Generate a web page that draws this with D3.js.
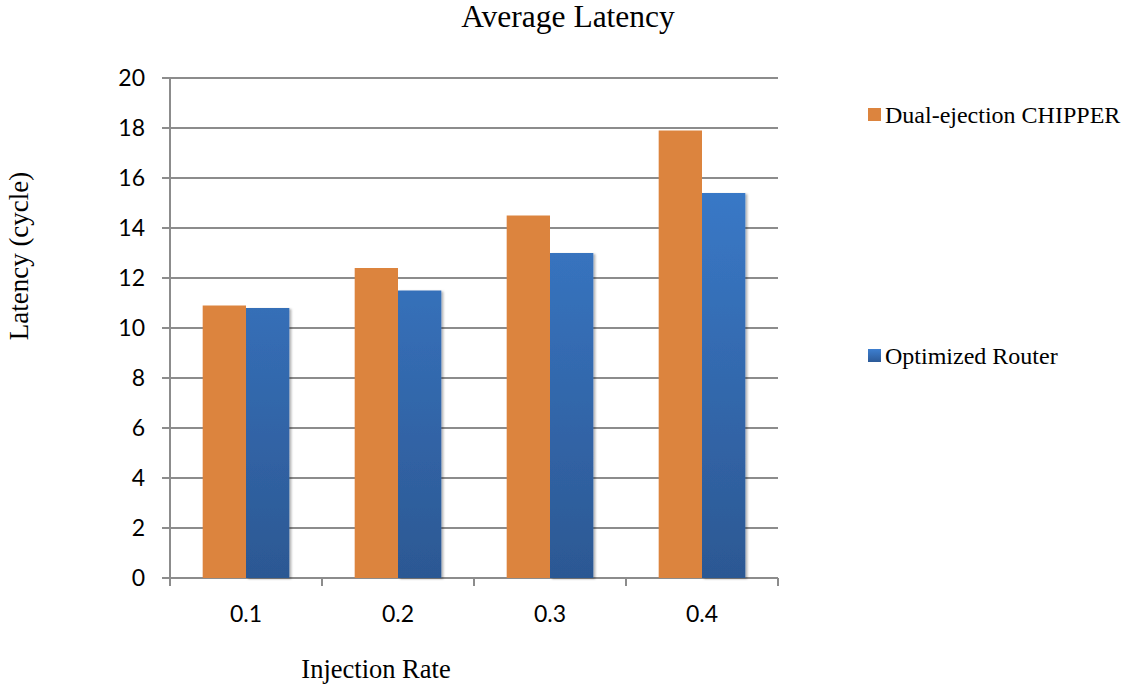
<!DOCTYPE html>
<html><head><meta charset="utf-8">
<script src="https://cdn.jsdelivr.net/npm/d3@7"></script>
<style>body{margin:0;background:#fff}</style>
</head><body>
<svg id="c" width="1131" height="691"></svg>
<script>
const categories = ["0.1","0.2","0.3","0.4"];
const seriesNames = ["Dual-ejection CHIPPER","Optimized Router"];
const chipper = [10.9, 12.4, 14.5, 17.9];
const optimized = [10.8, 11.5, 13.0, 15.4];
const yTicks = [0,2,4,6,8,10,12,14,16,18,20];

const svg = d3.select("#c");
const m = {l:170, r:778, t:78, b:578};
const x = d3.scaleBand().domain(categories).range([m.l, m.r]).paddingInner(0.43).paddingOuter(0.215);
const x1 = d3.scaleBand().domain(seriesNames).range([0, x.bandwidth()]);
const y = d3.scaleLinear().domain([0,20]).range([m.b, m.t]);

const defs = svg.append("defs");
const g = defs.append("linearGradient").attr("id","bg")
  .attr("gradientUnits","userSpaceOnUse").attr("x1",0).attr("x2",0).attr("y1",y(20)).attr("y2",y(0));
g.append("stop").attr("offset","0%").attr("stop-color","#3d82d6");
g.append("stop").attr("offset","100%").attr("stop-color","#2c5893");
const lg = defs.append("linearGradient").attr("id","lg").attr("x1",0).attr("y1",0).attr("x2",0).attr("y2",1);
lg.append("stop").attr("offset","0%").attr("stop-color","#3d7fd0");
lg.append("stop").attr("offset","100%").attr("stop-color","#2c5a98");
const f = defs.append("filter").attr("id","sh").attr("x","-20%").attr("y","-20%").attr("width","150%").attr("height","150%");
f.append("feDropShadow").attr("dx",2).attr("dy",1).attr("stdDeviation",1.2).attr("flood-color","#000").attr("flood-opacity",0.3);

// gridlines
svg.append("g").selectAll("line").data(yTicks).join("line")
  .attr("x1", m.l-8).attr("x2", m.r).attr("y1", d=>y(d)).attr("y2", d=>y(d))
  .attr("stroke","#8c8c8c").attr("stroke-width",2);

// y axis line
svg.append("line").attr("x1",m.l).attr("x2",m.l).attr("y1",m.t).attr("y2",m.b+8).attr("stroke","#8c8c8c").attr("stroke-width",2);
// x tick marks at band boundaries
const edges = d3.range(categories.length+1).map(i => m.l + i*(m.r-m.l)/categories.length);
svg.append("g").selectAll("line").data(edges).join("line")
  .attr("x1", d=>d).attr("x2", d=>d).attr("y1", m.b).attr("y2", m.b+8)
  .attr("stroke","#8c8c8c").attr("stroke-width",2);

// y labels
svg.append("g").selectAll("text").data(yTicks).join("text")
  .attr("x", 145).attr("y", d=>y(d)).attr("dy","0.35em").attr("text-anchor","end")
  .attr("font-family","Lato, 'Open Sans', sans-serif").attr("font-size",23).attr("fill","#000").text(d=>d);
// x labels
svg.append("g").selectAll("text").data(categories).join("text")
  .attr("x", d=>x(d)+x.bandwidth()/2).attr("y", 622).attr("text-anchor","middle")
  .attr("font-family","Lato, 'Open Sans', sans-serif").attr("font-size",23).attr("fill","#000").text(d=>d);

// bars
const data = categories.map((c,i)=>({c, vals:[chipper[i], optimized[i]]}));
const grp = svg.append("g").selectAll("g").data(data).join("g").attr("transform", d=>`translate(${x(d.c)},0)`);
grp.selectAll("rect").data(d=>d.vals.map((v,j)=>({v, s:seriesNames[j]}))).join("rect")
  .attr("x", d=>x1(d.s)).attr("width", x1.bandwidth())
  .attr("y", d=>y(d.v)).attr("height", d=>y(0)-y(d.v))
  .attr("fill", d=> d.s===seriesNames[0] ? "#dc843e" : "url(#bg)")
  .attr("filter", d=> d.s===seriesNames[0] ? null : "url(#sh)");

// title
svg.append("text").attr("x",568).attr("y",27).attr("text-anchor","middle")
  .attr("font-family","'Liberation Serif', 'Times New Roman', serif").attr("font-size",31.5).text("Average Latency");
// axis titles
svg.append("text").attr("x",376).attr("y",678).attr("text-anchor","middle")
  .attr("font-family","'Liberation Serif', serif").attr("font-size",26.5).text("Injection Rate");
svg.append("text").attr("transform","translate(28,256) rotate(-90)").attr("text-anchor","middle")
  .attr("font-family","'Liberation Serif', serif").attr("font-size",27).text("Latency (cycle)");

// legend
const leg = [{n:seriesNames[0], y:115, fill:"#dc843e"},{n:seriesNames[1], y:356, fill:"url(#lg)"}];
const lgG = svg.append("g").selectAll("g").data(leg).join("g");
lgG.append("rect").attr("x",868).attr("y",d=>d.y-7).attr("width",13).attr("height",13).attr("fill",d=>d.fill);
lgG.append("text").attr("x",885).attr("y",d=>d.y).attr("dy","0.35em")
  .attr("font-family","'Liberation Serif', serif").attr("font-size",24).text(d=>d.n);
</script>
</body></html>
